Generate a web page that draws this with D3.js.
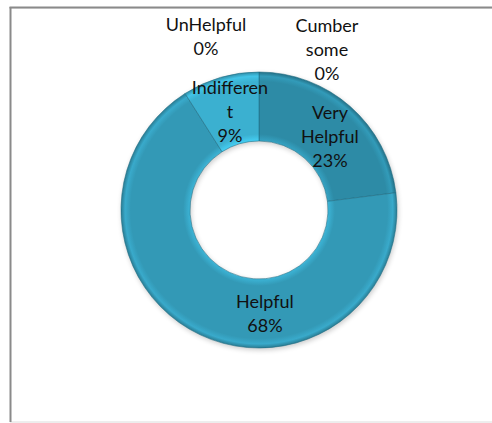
<!DOCTYPE html>
<html><head><meta charset="utf-8">
<script src="https://cdn.jsdelivr.net/npm/d3@7"></script>
<style>
html,body{margin:0;padding:0;background:#fff;}
svg{display:block;}
text{font-family:Lato,"Open Sans",sans-serif;font-size:18px;fill:#111;}
</style></head>
<body>
<svg id="chart" width="492" height="423"></svg>
<script>
// ---- data ----
const categories = ["Very Helpful", "Helpful", "Indifferent", "UnHelpful", "Cumbersome"];
const values = [23, 68, 9, 0, 0];
const labelLines = [
  ["Very", "Helpful", "23%"],
  ["Helpful", "68%"],
  ["Indifferen", "t", "9%"],
  ["UnHelpful", "0%"],
  ["Cumber", "some", "0%"]
];
const colors = ["#2d8ba6", "#3399b6", "#3bb0d0", "#3bb0d0", "#3bb0d0"];

// ---- layout (not data) ----
const W = 492, H = 423;
const cx = 259, cy = 210, rOuter = 138, rInner = 69;
const labelCenters = [[330, 137], [265, 314], [230, 112], [206, 37], [327, 50]];
const lineH = 24;

const svg = d3.select("#chart");

// frame
svg.append("rect").attr("x", 10.5).attr("y", 8).attr("width", W).attr("height", 414)
  .attr("fill", "#fff").attr("stroke", "#dcdcdc").attr("stroke-width", 1);
svg.append("line").attr("x1", 9.5).attr("x2", W).attr("y1", 7.5).attr("y2", 7.5)
  .attr("stroke", "#8a8a8a").attr("stroke-width", 2);
svg.append("line").attr("x1", 10.5).attr("x2", 10.5).attr("y1", 7).attr("y2", 422)
  .attr("stroke", "#8a8a8a").attr("stroke-width", 2);

const defs = svg.append("defs");
const f = defs.append("filter").attr("id", "shadow")
  .attr("color-interpolation-filters", "sRGB")
  .attr("x", "-20%").attr("y", "-20%").attr("width", "140%").attr("height", "140%");
f.append("feGaussianBlur").attr("in", "SourceAlpha").attr("stdDeviation", 2.5).attr("result", "b");
f.append("feOffset").attr("in", "b").attr("dx", 1).attr("dy", 2).attr("result", "o");
f.append("feComponentTransfer").attr("in", "o").attr("result", "s")
  .append("feFuncA").attr("type", "linear").attr("slope", 0.2);
const m = f.append("feMerge");
m.append("feMergeNode").attr("in", "s");
m.append("feMergeNode").attr("in", "SourceGraphic");

// bevel gradient (radial, light at edges) — coordinates local to the pie group
colors.forEach((c, i) => {
  const g = defs.append("radialGradient").attr("id", "grad" + i)
    .attr("gradientUnits", "userSpaceOnUse").attr("cx", 0).attr("cy", 0).attr("r", rOuter);
  const base = d3.color(c);
  g.append("stop").attr("offset", "50%").attr("stop-color", base.brighter(0.45));
  g.append("stop").attr("offset", "55%").attr("stop-color", base);
  g.append("stop").attr("offset", "93%").attr("stop-color", base);
  g.append("stop").attr("offset", "97%").attr("stop-color", base.brighter(0.3));
  g.append("stop").attr("offset", "100%").attr("stop-color", base.darker(0.6));
});

const pie = d3.pie().sort(null).value(d => d)(values);
const arc = d3.arc().innerRadius(rInner).outerRadius(rOuter);

const gPie = svg.append("g").attr("transform", `translate(${cx},${cy})`).attr("filter", "url(#shadow)");
gPie.selectAll("path").data(pie.filter(d => d.value > 0)).enter().append("path")
  .attr("d", arc)
  .attr("fill", d => `url(#grad${d.index})`)
  .attr("stroke", "#1f6c82").attr("stroke-opacity", 0.55).attr("stroke-width", 1);

// labels
const gl = svg.append("g");
labelLines.forEach((lines, i) => {
  const [lx, ly] = labelCenters[i];
  const n = lines.length;
  const t = gl.append("text").attr("text-anchor", "middle");
  lines.forEach((s, j) => {
    t.append("tspan").attr("x", lx).attr("y", ly + (j - (n - 1) / 2) * lineH + 6).text(s);
  });
});
</script>
</body></html>
